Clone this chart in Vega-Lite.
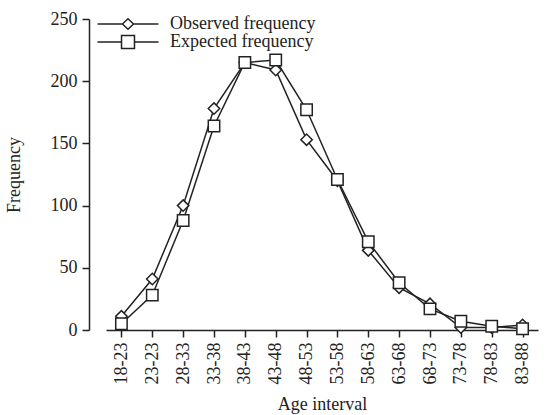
{
  "$schema": "https://vega.github.io/schema/vega-lite/v6.json",
  "width": 460,
  "height": 311,
  "autosize": {"type": "none"},
  "padding": {"left": 89, "top": 19, "right": 0, "bottom": 85},
  "background": "white",
  "config": {
    "view": {"stroke": null},
    "font": "Liberation Serif",
    "axis": {"grid": false, "domainColor": "#222", "tickColor": "#222", "labelColor": "#222", "titleColor": "#222", "labelFont": "Liberation Serif", "titleFont": "Liberation Serif", "titleFontWeight": "normal", "domainWidth": 1.5, "tickWidth": 1.5}
  },
  "data": {
    "values": [
      {"age": "18-23", "series": "Observed frequency", "freq": 11},
      {"age": "23-23", "series": "Observed frequency", "freq": 41},
      {"age": "28-33", "series": "Observed frequency", "freq": 100},
      {"age": "33-38", "series": "Observed frequency", "freq": 178},
      {"age": "38-43", "series": "Observed frequency", "freq": 215},
      {"age": "43-48", "series": "Observed frequency", "freq": 209},
      {"age": "48-53", "series": "Observed frequency", "freq": 153},
      {"age": "53-58", "series": "Observed frequency", "freq": 120},
      {"age": "58-63", "series": "Observed frequency", "freq": 64},
      {"age": "63-68", "series": "Observed frequency", "freq": 34},
      {"age": "68-73", "series": "Observed frequency", "freq": 21},
      {"age": "73-78", "series": "Observed frequency", "freq": 2},
      {"age": "78-83", "series": "Observed frequency", "freq": 2},
      {"age": "83-88", "series": "Observed frequency", "freq": 4},
      {"age": "18-23", "series": "Expected frequency", "freq": 5},
      {"age": "23-23", "series": "Expected frequency", "freq": 28},
      {"age": "28-33", "series": "Expected frequency", "freq": 88},
      {"age": "33-38", "series": "Expected frequency", "freq": 164},
      {"age": "38-43", "series": "Expected frequency", "freq": 215},
      {"age": "43-48", "series": "Expected frequency", "freq": 217},
      {"age": "48-53", "series": "Expected frequency", "freq": 177},
      {"age": "53-58", "series": "Expected frequency", "freq": 121},
      {"age": "58-63", "series": "Expected frequency", "freq": 71},
      {"age": "63-68", "series": "Expected frequency", "freq": 38},
      {"age": "68-73", "series": "Expected frequency", "freq": 17},
      {"age": "73-78", "series": "Expected frequency", "freq": 7},
      {"age": "78-83", "series": "Expected frequency", "freq": 3},
      {"age": "83-88", "series": "Expected frequency", "freq": 1}
    ]
  },
  "encoding": {
    "x": {
      "field": "age", "type": "ordinal", "sort": null,
      "scale": {"type": "point", "range": [17, 449]},
      "axis": {"title": "Age interval", "labelAngle": -90, "labelFontSize": 18, "titleFontSize": 18, "tickSize": 7, "labelPadding": 5, "titlePadding": 12}
    },
    "y": {
      "field": "freq", "type": "quantitative",
      "scale": {"domain": [0, 250], "nice": false},
      "axis": {"title": "Frequency", "values": [0, 50, 100, 150, 200, 250], "labelFontSize": 18, "titleFontSize": 18, "tickSize": 7, "labelPadding": 5, "titlePadding": 27}
    }
  },
  "resolve": {"scale": {"shape": "independent"}, "legend": {"shape": "independent"}},
  "layer": [
    {
      "mark": {"type": "line", "color": "#222", "strokeWidth": 1.5},
      "encoding": {"detail": {"field": "series"}}
    },
    {
      "mark": {"type": "point", "filled": true, "color": "white", "stroke": "#222", "strokeWidth": 1.5, "opacity": 1},
      "encoding": {
        "shape": {
          "field": "series", "type": "nominal",
          "scale": {"domain": ["Observed frequency", "Expected frequency"], "range": ["diamond", "square"]},
          "legend": null
        },
        "size": {"value": 130}
      }
    },
    {
      "transform": [{"filter": "false"}],
      "mark": {"type": "point", "filled": true, "color": "white", "stroke": "#222", "strokeWidth": 1.5, "opacity": 1},
      "encoding": {
        "shape": {
          "field": "series", "type": "nominal",
          "scale": {"domain": ["Observed frequency", "Expected frequency"], "range": ["M-3.81,0L-0.69,0M0.69,0L3.81,0M-0.69,0L0,-0.66L0.69,0L0,0.66Z", "M-3.81,0L-0.81,0M0.81,0L3.81,0M-0.81,-0.81L0.81,-0.81L0.81,0.81L-0.81,0.81Z"]},
          "legend": {
            "title": null, "orient": "none", "legendX": 30, "legendY": -4,
            "symbolSize": 256, "rowPadding": -1, "labelOffset": 33, "labelFontSize": 18, "labelColor": "#222", "labelFont": "Liberation Serif"
          }
        },
        "size": {"value": 256}
      }
    }
  ]
}
